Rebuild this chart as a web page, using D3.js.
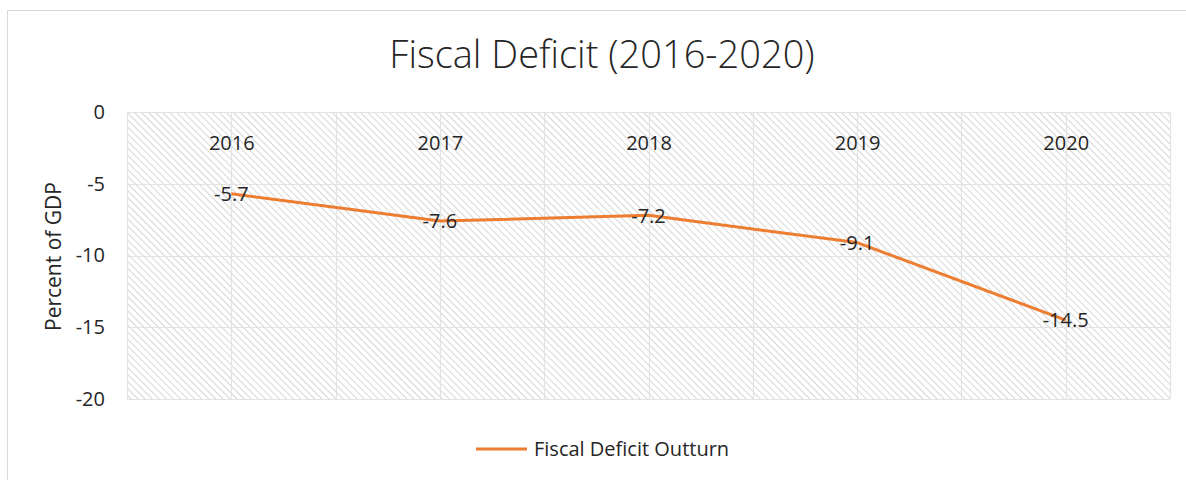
<!DOCTYPE html>
<html>
<head>
<meta charset="utf-8">
<script src="https://cdn.jsdelivr.net/npm/d3@7"></script>
<style>
  html, body { margin: 0; padding: 0; background: #fff; }
  svg { display: block; }
  text { font-family: "Open Sans", "Noto Sans", sans-serif; fill: #262626; }
</style>
</head>
<body>
<svg id="chart" width="1186" height="480"></svg>
<script>
// Fiscal deficit outturn, percent of GDP
const years = ["2016", "2017", "2018", "2019", "2020"];
const deficit = [-5.7, -7.6, -7.2, -9.1, -14.5];
const yTicks = [0, -5, -10, -15, -20];
const seriesName = "Fiscal Deficit Outturn";

const svg = d3.select("#chart");
const W = 1186, H = 480;
const plot = { left: 127, right: 1170, top: 112, bottom: 399 };

// plain hyphen for negative numbers
const fmt1 = v => d3.format(".1f")(v).replace("\u2212", "-");
const fmt0 = v => d3.format("d")(v).replace("\u2212", "-");

// chart frame
svg.append("rect")
  .attr("x", 7.5).attr("y", 10.5)
  .attr("width", W + 10).attr("height", H + 10)
  .attr("fill", "#fff").attr("stroke", "#d9d9d9");

// diagonal hatch fill for the plot area
const defs = svg.append("defs");
const pat = defs.append("pattern")
  .attr("id", "hatch")
  .attr("patternUnits", "userSpaceOnUse")
  .attr("width", 5).attr("height", 5)
  .attr("patternTransform", "rotate(-45)");
pat.append("rect").attr("width", 5).attr("height", 5).attr("fill", "#fff");
pat.append("line")
  .attr("x1", 0).attr("y1", 0).attr("x2", 0).attr("y2", 5)
  .attr("stroke", "#d6d6d6").attr("stroke-width", 2);

svg.append("rect")
  .attr("x", plot.left).attr("y", plot.top)
  .attr("width", plot.right - plot.left).attr("height", plot.bottom - plot.top)
  .attr("fill", "url(#hatch)");

const x = d3.scalePoint().domain(years).range([plot.left, plot.right]).padding(0.5);
const band = (plot.right - plot.left) / years.length;
const y = d3.scaleLinear().domain([-20, 0]).range([plot.bottom, plot.top]);

// gridlines
const grid = svg.append("g").attr("stroke", "#e3e3e3").attr("stroke-width", 1.2);
yTicks.forEach(t => {
  grid.append("line")
    .attr("x1", plot.left).attr("x2", plot.right)
    .attr("y1", Math.round(y(t)) + 0.5).attr("y2", Math.round(y(t)) + 0.5);
});
const vLines = [];
years.forEach(yr => { vLines.push(x(yr) - band / 2, x(yr)); });
vLines.push(plot.right);
vLines.forEach(v => {
  grid.append("line")
    .attr("x1", Math.round(v) + 0.5).attr("x2", Math.round(v) + 0.5)
    .attr("y1", plot.top).attr("y2", plot.bottom);
});

// y axis labels
const yAxis = d3.axisLeft(y).tickValues(yTicks).tickSize(0).tickPadding(0).tickFormat(fmt0);
const gy = svg.append("g").attr("transform", `translate(${plot.left - 22},0)`).call(yAxis);
gy.select(".domain").remove();
gy.selectAll("text").style("font-size", "20px").attr("fill", "#262626")
  .style("font-family", "'Open Sans', sans-serif");

// category labels along the top of the plot
const xAxis = d3.axisTop(x).tickSize(0).tickPadding(0);
const gx = svg.append("g").attr("transform", `translate(0,${plot.top + 38})`).call(xAxis);
gx.select(".domain").remove();
gx.selectAll("text").style("font-size", "20px").attr("fill", "#262626")
  .style("font-family", "'Open Sans', sans-serif");

// series line
const line = d3.line().x((d, i) => x(years[i])).y(d => y(d));
svg.append("path")
  .datum(deficit)
  .attr("d", line)
  .attr("fill", "none")
  .attr("stroke", "#ED7D31")
  .attr("stroke-width", 3)
  .attr("stroke-linejoin", "round");

// value labels centred on points
svg.append("g").selectAll("text")
  .data(deficit)
  .join("text")
  .attr("x", (d, i) => x(years[i]))
  .attr("y", d => y(d))
  .attr("dy", "0.36em")
  .attr("text-anchor", "middle")
  .style("font-size", "20px")
  .text(fmt1);

// title
svg.append("text")
  .attr("x", 602).attr("y", 68)
  .attr("text-anchor", "middle")
  .style("font-size", "38px")
  .style("font-weight", 300)
  .attr("fill", "#404040")
  .text("Fiscal Deficit (2016-2020)");

// y axis title
svg.append("text")
  .attr("transform", `translate(61,${(plot.top + plot.bottom) / 2 + 1}) rotate(-90)`)
  .attr("text-anchor", "middle")
  .style("font-size", "21px")
  .text("Percent of GDP");

// legend
const lg = svg.append("g").attr("transform", "translate(476,449)");
lg.append("line").attr("x1", 0).attr("x2", 51).attr("y1", 0).attr("y2", 0)
  .attr("stroke", "#ED7D31").attr("stroke-width", 3);
lg.append("text").attr("x", 58).attr("y", 0).attr("dy", "0.36em")
  .style("font-size", "20px").attr("fill", "#404040")
  .text(seriesName);
</script>
</body>
</html>
